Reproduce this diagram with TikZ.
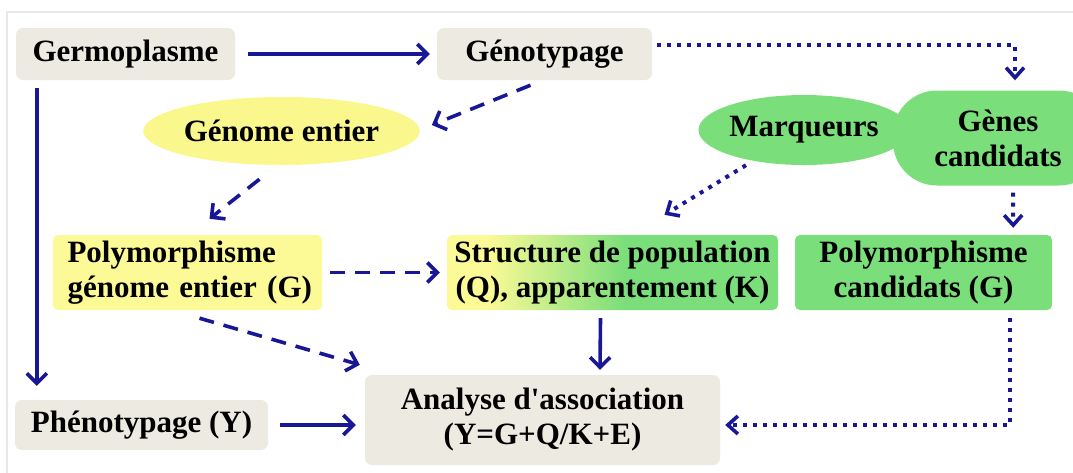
\documentclass[tikz,border=0pt]{standalone}
\usepackage{fontspec}
\setmainfont{Liberation Serif}
\usetikzlibrary{shapes.geometric,arrows.meta,calc}
\definecolor{boxgray}{RGB}{237,234,226}
\definecolor{yel}{RGB}{250,247,140}
\definecolor{ylbox}{RGB}{252,250,150}
\definecolor{grn}{RGB}{122,222,122}
\definecolor{navy}{RGB}{24,24,150}
\definecolor{framegray}{RGB}{232,232,232}
\pgfdeclarehorizontalshading{ygshade}{100bp}{color(0bp)=(ylbox); color(31bp)=(ylbox); color(52bp)=(grn); color(100bp)=(grn)}
\tikzset{
  every node/.style={font=\bfseries\fontsize{31}{35}\selectfont, inner sep=0pt, text=black},
  graybox/.style={rectangle, rounded corners=7pt, fill=boxgray},
  ylwbox/.style={rectangle, rounded corners=5pt, fill=ylbox},
  grnbox/.style={rectangle, rounded corners=5pt, fill=grn},
  arr/.style={draw=navy, line width=3.6pt, -{Straight Barb[length=10pt,width=20pt,line width=3.6pt]}},
  dasharr/.style={arr, dash pattern=on 15pt off 10pt},
  dotarr/.style={arr, line width=4pt, dash pattern=on 4pt off 6pt, -{Straight Barb[length=10pt,width=18pt,line width=3.6pt]}},
}
\begin{document}
\begin{tikzpicture}[x=1pt,y=-1pt]
\useasboundingbox (0,0) rectangle (1073,472);
\draw[framegray, line width=1.5pt] (7,480) -- (7,12) -- (1080,12);
% nodes
\node[graybox, minimum width=219pt, minimum height=52pt] (germ) at (125.5,54) {Germoplasme};
\node[graybox, minimum width=215pt, minimum height=52pt] (geno) at (544.5,54) {Génotypage};
\node[ellipse, fill=yel, minimum width=253pt, minimum height=68pt] (genome) at (281.5,131) {Génome entier};
\node[ellipse, fill=grn, minimum width=202pt, minimum height=70pt] (marq) at (804,130) {Marqueurs};
\node[rectangle, rounded corners=44pt, fill=grn, minimum width=210pt, minimum height=95pt, align=center] (genes) at (998,138) {Gènes\\candidats};
\node[ylwbox, minimum width=269pt, minimum height=75pt, text width=262pt, align=left] (pge) at (187.5,272.5) {\hspace*{11pt}Polymorphisme\\\hspace*{11pt}génome entier (G)};
\node[rectangle, rounded corners=5pt, shading=ygshade, minimum width=331pt, minimum height=75pt, align=center] (struct) at (612.5,272.5) {Structure de population\\(Q), apparentement (K)};
\node[grnbox, minimum width=257pt, minimum height=75pt, align=center] (pc) at (923.5,272.5) {Polymorphisme\\candidats (G)};
\node[graybox, minimum width=253pt, minimum height=50pt] (pheno) at (141.5,425) {Phénotypage (Y)};
\node[graybox, minimum width=355pt, minimum height=90pt, align=center] (ana) at (542.5,420) {Analyse d\textquotesingle association\\(Y=G+Q/K+E)};
% connectors
\draw[arr] ($(germ.east)+(13,0)$) -- ($(geno.west)+(-7,0)$);
\draw[arr] ($(germ.south west)+(21,8)$) -- ($(pheno.north west)+(22,-14)$);
\draw[dasharr] ($(geno.south)+(-14,5)$) -- ($(genome.east)+(12,-6)$);
\draw[dotarr] ($(geno.north east)+(5,17)$) -| ($(genes.north)+(17,-10)$);
\draw[dasharr] ($(genome.south)+(-22,14)$) -- ($(pge.north)+(22,-16)$);
\draw[dotarr] ($(marq.south)+(-58,0)$) -- ($(struct.north)+(52,-20)$);
\draw[dotarr] ($(genes.south)+(15,7)$) -- ($(pc.north east)+(-39,-7)$);
\draw[dasharr] ($(pge.east)+(8,0)$) -- ($(struct.west)+(-7,0)$);
\draw[dasharr] ($(pge.south)+(12,8)$) -- ($(ana.north west)+(-5,-10)$);
\draw[arr] ($(struct.south)+(-12,8)$) -- ($(ana.north)+(57.5,-5)$);
\draw[dotarr] ($(pc.south east)+(-42,8)$) |- ($(ana.east)+(5,5)$);
\draw[arr] ($(pheno.east)+(12,0)$) -- ($(ana.west)+(-9,5)$);
\end{tikzpicture}
\end{document}
